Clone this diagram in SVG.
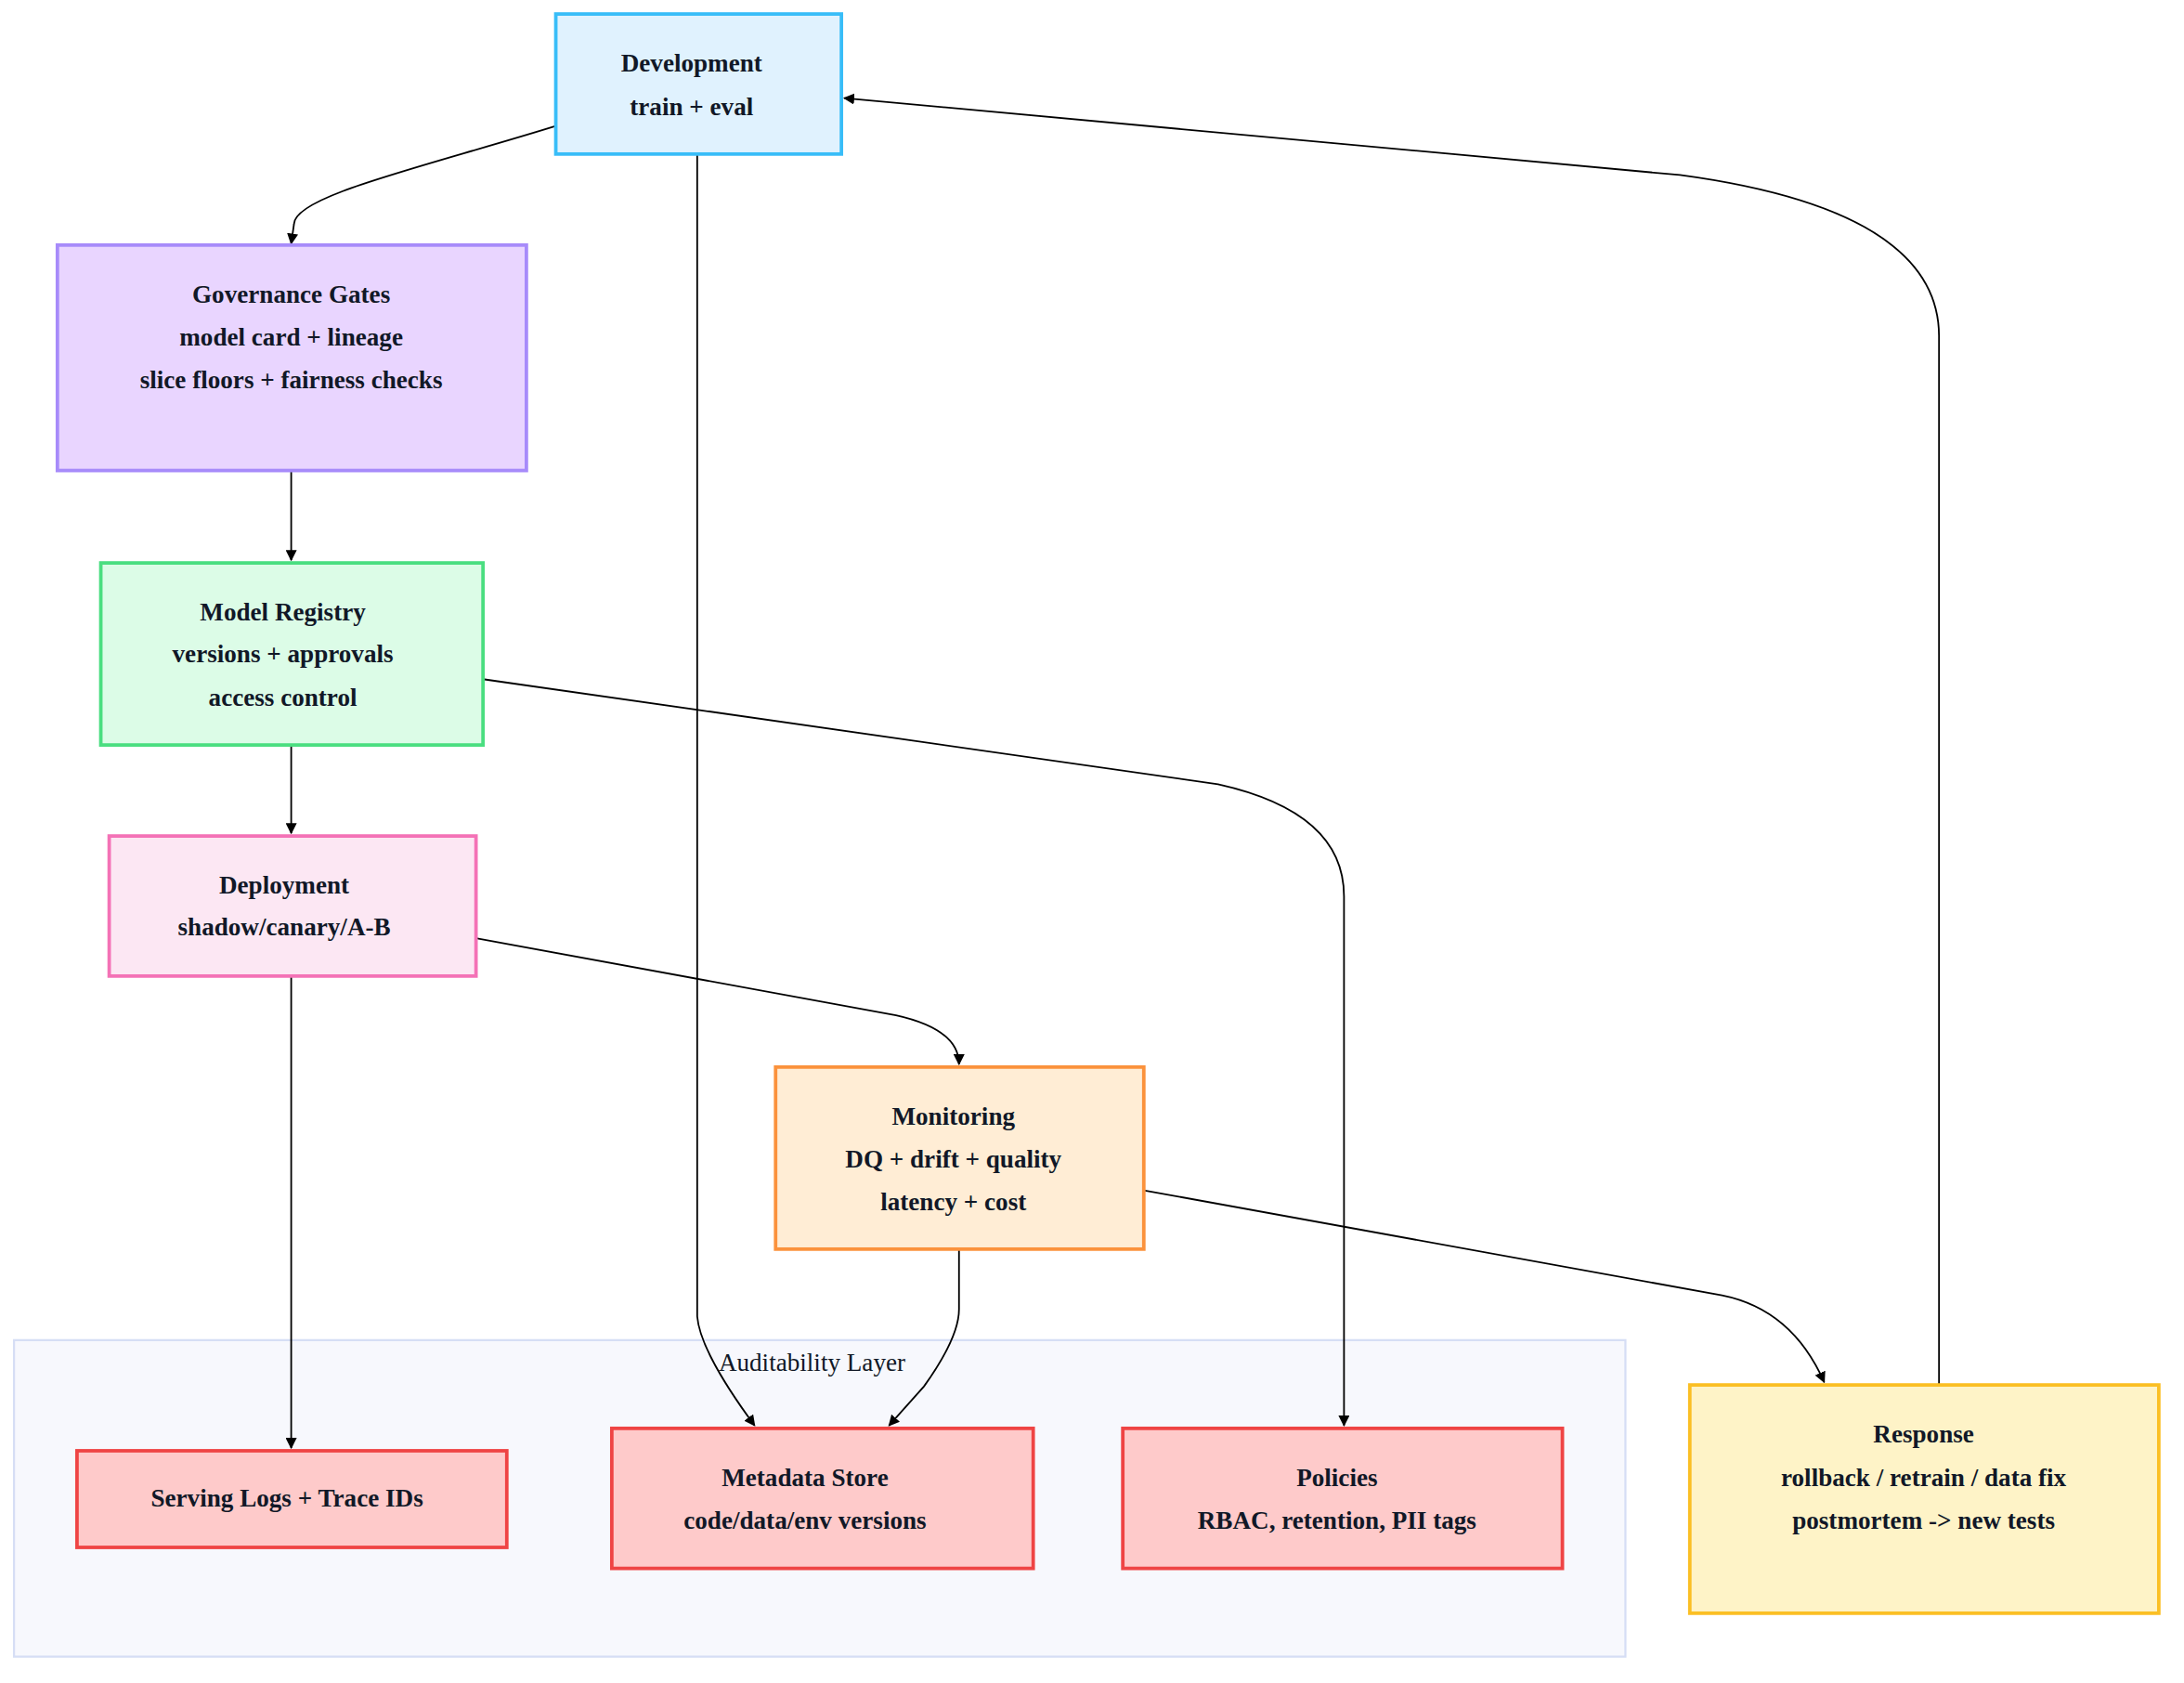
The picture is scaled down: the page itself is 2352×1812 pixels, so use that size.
<svg xmlns="http://www.w3.org/2000/svg" width="2352" height="1812" viewBox="0 0 2352 1812">
<style>
.t{font-family:"Liberation Serif","DejaVu Serif",serif;font-weight:bold;font-size:18px;fill:#111827;text-anchor:middle}
.c{font-family:"Liberation Serif","DejaVu Serif",serif;font-size:18px;fill:#111827;text-anchor:middle}
.e{fill:none;stroke:#000;stroke-width:1.2;marker-end:url(#a)}
rect{stroke-width:2.5}
</style>
<defs><marker id="a" viewBox="0 0 10 10" refX="9" refY="5" markerWidth="8" markerHeight="8" orient="auto" markerUnits="userSpaceOnUse"><path d="M0,0L10,5L0,10z" fill="#000"/></marker></defs>
<rect width="2352" height="1812" fill="#fff"/>
<g transform="scale(1.5077)">
<g id="auditability"><rect x="10" y="957" width="1151" height="226" fill="#f7f8fd" stroke="#d6def5" style="stroke-width:1.5"/><text class="c" x="580" y="979">Auditability Layer</text></g>
<g id="connectors">
<path class="e" d="M397,90 C300,120 210,140 210,160 L208,174"/>
<path class="e" d="M498,110 L498,940 Q500,965 539,1018"/>
<path class="e" d="M208,336 L208,400"/>
<path class="e" d="M345,485 L870,560 Q960,580 960,640 L960,1018"/>
<path class="e" d="M208,532 L208,595"/>
<path class="e" d="M340,670 L640,725 Q685,735 685,760"/>
<path class="e" d="M208,697 L208,1034"/>
<path class="e" d="M685,892 L685,935 Q685,955 660,990 L635,1018"/>
<path class="e" d="M817,850 L1230,925 Q1280,935 1303,987"/>
<path class="e" d="M1385,989 L1385,240 Q1385,150 1200,125 L603,70"/>
</g>
<g id="development"><rect x="397" y="10" width="204" height="100" fill="#e0f2fe" stroke="#38bdf8"/><text class="t" x="494" y="51">Development</text><text class="t" x="494" y="82">train + eval</text></g>
<g id="governance"><rect x="41" y="175" width="335" height="161" fill="#e9d5ff" stroke="#a78bfa"/><text class="t" x="208" y="216">Governance Gates</text><text class="t" x="208" y="247">model card + lineage</text><text class="t" x="208" y="277">slice floors + fairness checks</text></g>
<g id="registry"><rect x="72" y="402" width="273" height="130" fill="#dcfce7" stroke="#4ade80"/><text class="t" x="202" y="443">Model Registry</text><text class="t" x="202" y="473">versions + approvals</text><text class="t" x="202" y="504">access control</text></g>
<g id="deployment"><rect x="78" y="597" width="262" height="100" fill="#fce7f3" stroke="#f472b6"/><text class="t" x="203" y="638">Deployment</text><text class="t" x="203" y="668">shadow/canary/A-B</text></g>
<g id="monitoring"><rect x="554" y="762" width="263" height="130" fill="#ffedd5" stroke="#fb923c"/><text class="t" x="681" y="803">Monitoring</text><text class="t" x="681" y="834">DQ + drift + quality</text><text class="t" x="681" y="864">latency + cost</text></g>
<g id="serving"><rect x="55" y="1036" width="307" height="69" fill="#fecaca" stroke="#ef4444"/><text class="t" x="205" y="1076">Serving Logs + Trace IDs</text></g>
<g id="metadata"><rect x="437" y="1020" width="301" height="100" fill="#fecaca" stroke="#ef4444"/><text class="t" x="575" y="1061">Metadata Store</text><text class="t" x="575" y="1092">code/data/env versions</text></g>
<g id="policies"><rect x="802" y="1020" width="314" height="100" fill="#fecaca" stroke="#ef4444"/><text class="t" x="955" y="1061">Policies</text><text class="t" x="955" y="1092">RBAC, retention, PII tags</text></g>
<g id="response"><rect x="1207" y="989" width="335" height="163" fill="#fef3c7" stroke="#fbbf24"/><text class="t" x="1374" y="1030">Response</text><text class="t" x="1374" y="1061">rollback / retrain / data fix</text><text class="t" x="1374" y="1092">postmortem -&gt; new tests</text></g>
</g>
</svg>
